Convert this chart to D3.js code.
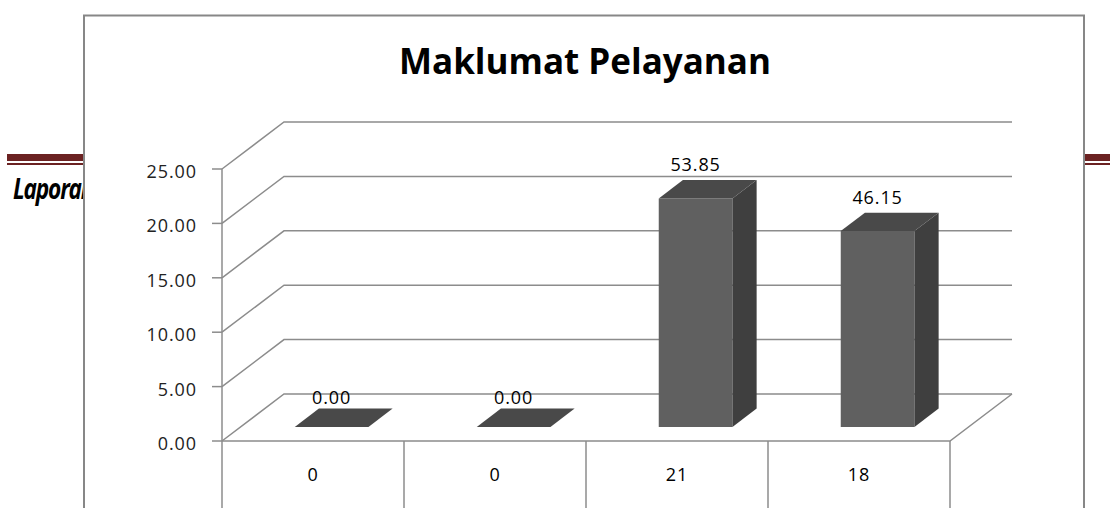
<!DOCTYPE html>
<html>
<head>
<meta charset="utf-8">
<script src="https://cdn.jsdelivr.net/npm/d3@7"></script>
<style>
  body { margin: 0; background: #fff; }
  svg { display: block; }
  text { font-family: "Open Sans", "Noto Sans", sans-serif; }
</style>
</head>
<body>
<svg width="1110" height="508"></svg>
<script>
// chart values
const categories = ['0', '0', '21', '18'];
const values = [0, 0, 21, 18];
const valueLabels = ['0.00', '0.00', '53.85', '46.15'];
const yTicks = [0, 5, 10, 15, 20, 25];

const svg = d3.select('svg');

// page behind the chart (report header rule + running title)
svg.append('clipPath').attr('id', 'pageclip')
    .append('rect').attr('x', 0).attr('y', 0).attr('width', 83).attr('height', 508);

const page = svg.append('g');
page.append('rect').attr('x', 7).attr('y', 154).attr('width', 1103).attr('height', 7).attr('fill', '#6b2222');
page.append('rect').attr('x', 7).attr('y', 163).attr('width', 1103).attr('height', 2).attr('fill', '#6b2222');
page.append('g')
    .attr('clip-path', 'url(#pageclip)')
    .append('text')
    .attr('transform', 'translate(13 199) scale(0.78 1)')
    .attr('font-family', 'Liberation Sans, sans-serif')
    .attr('font-style', 'italic')
    .attr('font-weight', 'bold')
    .attr('font-size', 29)
    .attr('letter-spacing', -1.5)
    .attr('fill', '#000')
    .text('Laporan');

// chart frame
svg.append('rect')
    .attr('x', 84).attr('y', 15.5)
    .attr('width', 1000).attr('height', 520)
    .attr('fill', '#fff')
    .attr('stroke', '#878787')
    .attr('stroke-width', 2);

svg.append('text')
    .attr('x', 585).attr('y', 74)
    .attr('text-anchor', 'middle')
    .attr('font-size', 35)
    .attr('font-weight', 'bold')
    .attr('fill', '#000')
    .text('Maklumat Pelayanan');

// scales
const xScale = d3.scaleBand()
    .domain(d3.range(categories.length))
    .range([222, 950]);

const yScale = d3.scaleLinear()
    .domain([0, 25])
    .range([441, 169]);

// depth direction of the 3d box
const depthX = d3.scaleLinear().domain([0, 1]).range([0, 62]);
const depthY = d3.scaleLinear().domain([0, 1]).range([0, -47]);

const proj = (x, v, d) => [x + depthX(d), yScale(v) + depthY(d)];

const lineColor = '#8c8c8c';
const chart = svg.append('g');

// walls: gridlines run along side wall then back wall
const x0 = xScale.range()[0];
const x1 = xScale.range()[1];
const line = d3.line();

chart.selectAll('.grid')
    .data(yTicks)
    .enter()
    .append('path')
    .attr('class', 'grid')
    .attr('fill', 'none')
    .attr('stroke', lineColor)
    .attr('stroke-width', 1.5)
    .attr('d', (t) => line([proj(x0, t, 0), proj(x0, t, 1), proj(x1, t, 1)]));

// floor
chart.append('path')
    .attr('fill', 'none')
    .attr('stroke', lineColor)
    .attr('stroke-width', 1.5)
    .attr('d', line([proj(x0, 0, 0), proj(x1, 0, 0), proj(x1, 0, 1)]));

// y axis (front edge)
chart.append('line')
    .attr('x1', x0).attr('x2', x0)
    .attr('y1', yScale(25)).attr('y2', 508)
    .attr('stroke', lineColor).attr('stroke-width', 1.5);

chart.selectAll('.tick')
    .data(yTicks)
    .enter()
    .append('line')
    .attr('x1', x0 - 10).attr('x2', x0)
    .attr('y1', (t) => yScale(t)).attr('y2', (t) => yScale(t))
    .attr('stroke', lineColor).attr('stroke-width', 1.5);

chart.selectAll('.ylab')
    .data(yTicks)
    .enter()
    .append('text')
    .attr('x', 197)
    .attr('y', (t) => yScale(t) + 9)
    .attr('text-anchor', 'end')
    .attr('font-size', 18)
    .attr('letter-spacing', 0.9)
    .attr('fill', '#222')
    .text((t) => d3.format('.2f')(t));

// category table under the floor
chart.selectAll('.sep')
    .data(d3.range(1, categories.length + 1))
    .enter()
    .append('line')
    .attr('x1', (i) => x0 + i * xScale.bandwidth())
    .attr('x2', (i) => x0 + i * xScale.bandwidth())
    .attr('y1', yScale(0)).attr('y2', 508)
    .attr('stroke', lineColor).attr('stroke-width', 1.5);

chart.selectAll('.cat')
    .data(categories)
    .enter()
    .append('text')
    .attr('x', (c, i) => xScale(i) + xScale.bandwidth() / 2)
    .attr('y', 481)
    .attr('text-anchor', 'middle')
    .attr('font-size', 18)
    .attr('letter-spacing', 0.9)
    .attr('fill', '#000')
    .text((c) => c);

// bars
const barW = xScale.bandwidth() * 0.405;
const dFront = 0.3;
const dBack = 0.69;

const bars = chart.selectAll('.bar')
    .data(values)
    .enter()
    .append('g')
    .attr('class', 'bar');

const poly = (pts) => 'M' + pts.map((p) => p.join(',')).join('L') + 'Z';
const left = (i) => xScale(i) + (xScale.bandwidth() - barW) / 2;

bars.append('path')
    .attr('fill', '#606060')
    .attr('d', (v, i) => poly([
        proj(left(i), 0, dFront), proj(left(i) + barW, 0, dFront),
        proj(left(i) + barW, v, dFront), proj(left(i), v, dFront)]));

bars.append('path')
    .attr('fill', '#3f3f3f')
    .attr('d', (v, i) => poly([
        proj(left(i) + barW, 0, dFront), proj(left(i) + barW, 0, dBack),
        proj(left(i) + barW, v, dBack), proj(left(i) + barW, v, dFront)]));

bars.append('path')
    .attr('fill', '#494949')
    .attr('d', (v, i) => poly([
        proj(left(i), v, dFront), proj(left(i) + barW, v, dFront),
        proj(left(i) + barW, v, dBack), proj(left(i), v, dBack)]));

bars.append('text')
    .attr('x', (v, i) => proj(left(i) + barW / 2, v, dFront)[0])
    .attr('y', (v, i) => proj(left(i), v, dBack)[1] - (v > 0 ? 9 : 5))
    .attr('text-anchor', 'middle')
    .attr('font-size', 18)
    .attr('letter-spacing', 0.9)
    .attr('fill', '#000')
    .text((v, i) => valueLabels[i]);
</script>
</body>
</html>
